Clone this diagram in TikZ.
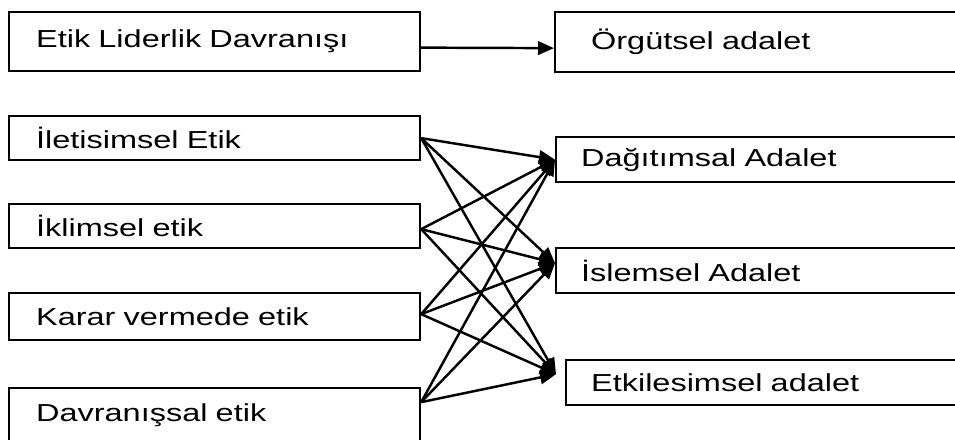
\documentclass[tikz,border=0pt]{standalone}
\usepackage{fontspec}
\setmainfont[FakeStretch=1.32]{Liberation Sans}
\usetikzlibrary{arrows.meta}

\begin{document}
\begin{tikzpicture}[x=0.02cm, y=-0.02cm,
        font=\fontsize{14}{16}\selectfont,
        lbox/.style={draw, line width=1.3pt, anchor=north west, align=left, text width=7.14cm, inner xsep=0.54cm},
        rbox/.style={draw, line width=1.3pt, anchor=north west, align=left, text width=8cm, inner xsep=0.5cm},
        arr/.style={line width=1.4pt, -{Triangle[length=0.32cm, width=0.27cm]}}]
                    \useasboundingbox (0,0) rectangle (955,439);
                    \clip (0,0) rectangle (955,439);

                    \node[lbox, minimum height=1.18cm] (etik) at (8,11) {Etik Liderlik Davranışı};
                    \node[rbox, minimum height=1.2cm, inner xsep=0.72cm] (org) at (554,11) {Örgütsel adalet};

                    \node[lbox, minimum height=0.88cm] (ilet) at (8,115) {İletisimsel Etik};
                    \node[lbox, minimum height=0.88cm] (ikl) at (8,203) {İklimsel etik};
                    \node[lbox, minimum height=0.94cm] (karar) at (8,292) {Karar vermede etik};
                    \node[lbox, minimum height=1.1cm] (davr) at (8,387) {Davranışsal etik};

                    \node[rbox, minimum height=0.9cm] (dag) at (555,136) {Dağıtımsal Adalet};
                    \node[rbox, minimum height=0.9cm] (isl) at (555,247) {İslemsel Adalet};
                    \node[rbox, minimum height=0.9cm] (etk) at (565,359) {Etkilesimsel adalet};

                    \draw[arr] ([yshift=-0.12cm]etik.east) -- ([yshift=-0.12cm]org.west);

                    \draw[arr] (ilet.east) -- (dag.west);
                    \draw[arr] (ilet.east) -- ([yshift=0.15cm]isl.west);
                    \draw[arr] (ilet.east) -- ([shift={(-0.18cm,0.17cm)}]etk.west);
                    \draw[arr] ([yshift=-0.06cm]ikl.east) -- (dag.west);
                    \draw[arr] ([yshift=-0.06cm]ikl.east) -- ([yshift=0.15cm]isl.west);
                    \draw[arr] ([yshift=-0.06cm]ikl.east) -- ([shift={(-0.18cm,0.17cm)}]etk.west);
                    \draw[arr] ([yshift=0.05cm]karar.east) -- (dag.west);
                    \draw[arr] ([yshift=0.05cm]karar.east) -- ([yshift=0.15cm]isl.west);
                    \draw[arr] ([yshift=0.05cm]karar.east) -- ([shift={(-0.18cm,0.17cm)}]etk.west);
                    \draw[arr] ([yshift=0.27cm]davr.east) -- (dag.west);
                    \draw[arr] ([yshift=0.27cm]davr.east) -- ([yshift=0.15cm]isl.west);
                    \draw[arr] ([yshift=0.27cm]davr.east) -- ([shift={(-0.18cm,0.17cm)}]etk.west);
                \end{tikzpicture}
\end{document}
